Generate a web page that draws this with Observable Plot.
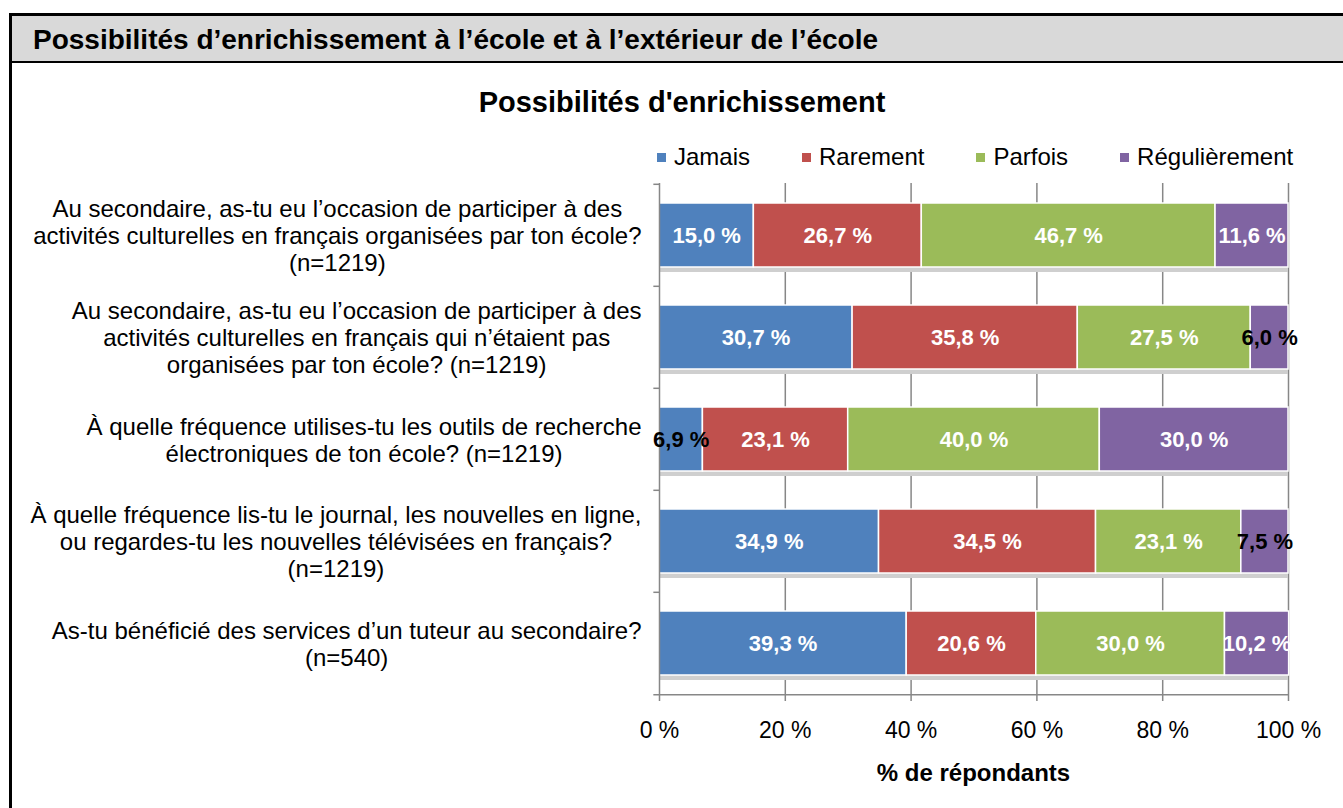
<!DOCTYPE html>
<html><head><meta charset="utf-8">
<script src="https://cdn.jsdelivr.net/npm/d3@7"></script>
<script src="https://cdn.jsdelivr.net/npm/@observablehq/plot@0.6"></script>
<style>
html,body{margin:0;padding:0}
body{width:1343px;height:808px;overflow:hidden;background:#fff;font-family:"Liberation Sans",Arial,sans-serif;position:relative;color:#000}
#frame{position:absolute;left:9px;top:13px;right:0;bottom:-10px;border-top:3px solid #000;border-left:3px solid #000}
#header{position:absolute;left:12px;top:16px;right:0;height:45px;background:#d9d9d9;border-bottom:2px solid #000}
#header span{position:absolute;left:21px;top:1px;line-height:45px;font-weight:bold;font-size:28px;white-space:nowrap}
#title{position:absolute;left:0;width:1364px;top:84px;text-align:center;font-weight:bold;font-size:29px;line-height:36px;white-space:nowrap}
#legend{position:absolute;left:657px;top:145px;height:24px;display:flex;gap:52px;font-size:24px;line-height:24px;white-space:nowrap}
#legend .item{display:flex;align-items:center}
#legend .sw{width:9px;height:9px;margin-right:8px}
#chart{position:absolute;left:0;top:170px}
#xlabel{position:absolute;left:659px;width:629px;top:759px;text-align:center;font-weight:bold;font-size:24px;line-height:28px;white-space:nowrap}
</style>
</head><body>
<div id="frame"></div>
<div id="header"><span id="htitle"></span></div>
<div id="title"></div>
<div id="legend"></div>
<div id="chart"></div>
<div id="xlabel"></div>
<script>
const headerTitle = "Possibilités d’enrichissement à l’école et à l’extérieur de l’école";
const chartTitle = "Possibilités d'enrichissement";
const xTitle = "% de répondants";
const questions = [
  "Au secondaire, as-tu eu l’occasion de participer à des\nactivités culturelles en français organisées par ton école?\n(n=1219)",
  "Au secondaire, as-tu eu l’occasion de participer à des\nactivités culturelles en français qui n’étaient pas\norganisées par ton école? (n=1219)",
  "À quelle fréquence utilises-tu les outils de recherche\nélectroniques de ton école? (n=1219)",
  "À quelle fréquence lis-tu le journal, les nouvelles en ligne,\nou regardes-tu les nouvelles télévisées en français?\n(n=1219)",
  "As-tu bénéficié des services d’un tuteur au secondaire?\n(n=540)"
];
const series = ["Jamais", "Rarement", "Parfois", "Régulièrement"];
const colors = ["#4F81BD", "#C0504D", "#9BBB59", "#8064A2"];
const jamais = [15.0, 30.7, 6.9, 34.9, 39.3];
const rarement = [26.7, 35.8, 23.1, 34.5, 20.6];
const parfois = [46.7, 27.5, 40.0, 23.1, 30.0];
const regulierement = [11.6, 6.0, 30.0, 7.5, 10.2];
const xTicks = [0, 20, 40, 60, 80, 100];

document.getElementById("htitle").textContent = headerTitle;
document.getElementById("title").textContent = chartTitle;
document.getElementById("xlabel").textContent = xTitle;
const legend = document.getElementById("legend");
series.forEach((s, i) => {
  const it = document.createElement("div"); it.className = "item";
  const sw = document.createElement("span"); sw.className = "sw"; sw.style.background = colors[i];
  const tx = document.createElement("span"); tx.textContent = s;
  it.appendChild(sw); it.appendChild(tx); legend.appendChild(it);
});

const valueArrays = [jamais, rarement, parfois, regulierement];
const table = [];
questions.forEach((q, i) => valueArrays.forEach((arr, j) => table.push({question: q, series: series[j], value: arr[i]})));

const W = 1343, H = 638, mT = 13, mB = 113, mL = 659, mR = 55;
const step = (H - mT - mB) / questions.length;
const fmt = v => v.toFixed(1).replace(".", ",") + " %";
const grid = "#878787";

const plot = Plot.plot({
  width: W, height: H, marginTop: mT, marginBottom: mB, marginLeft: mL, marginRight: mR,
  style: {fontFamily: "'Liberation Sans', Arial, sans-serif", background: "transparent", overflow: "visible", color: "#000"},
  x: {domain: [0, 100], axis: null},
  y: {domain: questions, paddingInner: 0.375, paddingOuter: 0.1875, axis: null},
  color: {domain: series, range: colors},
  marks: [
    Plot.ruleX(xTicks.slice(1), {stroke: grid, strokeWidth: 1.5}),
    Plot.barX(questions, {x1: 0, x2: 100, y: d => d, fill: "#cfcfcf", dy: 5}),
    Plot.barX(table, Plot.stackX({x: "value", y: "question", fill: "series", order: series, stroke: "white", strokeWidth: 1.5})),
    Plot.ruleX([0], {stroke: grid, strokeWidth: 1.5}),
    Plot.ruleY(questions, {y: d => d, x1: 0, x2: -0.9, dy: -step / 2, stroke: grid, strokeWidth: 1.5}),
    Plot.ruleY(questions.slice(-1), {y: d => d, x1: -0.9, x2: 100, dy: step / 2, stroke: grid, strokeWidth: 1.5}),
    Plot.axisX({ticks: xTicks, tickFormat: d => d + " %", tickSize: 6, tickPadding: 20, fontSize: 23, stroke: grid, strokeWidth: 1.5, fill: "#000", label: null}),
    Plot.text(table, Plot.stackX({x: "value", y: "question", z: "series", order: series, text: d => fmt(d.value), fill: d => d.value < 8 ? "#000" : "#fff", fontWeight: "bold", fontSize: 22})),
    Plot.text(questions, {x: 0, y: d => d, text: d => d, textAnchor: "end", dx: -18, fontSize: 24, lineHeight: 1.12, fill: "#000"})
  ]
});
document.getElementById("chart").appendChild(plot);

// center each multi-line label block, keeping its right edge next to the axis
const textGroups = plot.querySelectorAll('g[aria-label="text"]');
const labelGroup = textGroups[textGroups.length - 1];
labelGroup.setAttribute("text-anchor", "middle");
labelGroup.querySelectorAll("text").forEach(t => {
  t.setAttribute("text-anchor", "end");
  const bb = t.getBBox();
  t.setAttribute("text-anchor", "middle");
  t.setAttribute("transform", (t.getAttribute("transform") || "") + ` translate(${-bb.width / 2},0)`);
});
</script>
</body></html>
